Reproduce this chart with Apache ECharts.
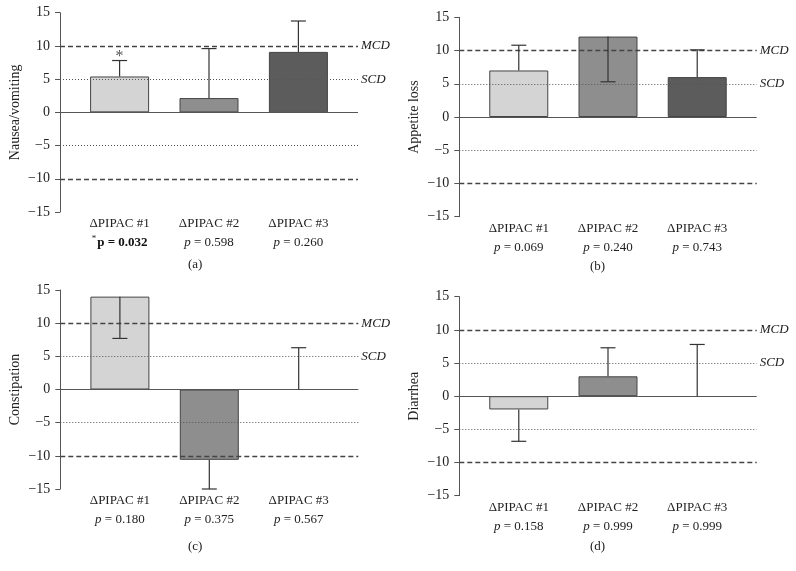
<!DOCTYPE html>
<html>
<head>
<meta charset="utf-8">
<script src="https://cdn.jsdelivr.net/npm/echarts@6/dist/echarts.min.js"></script>
<style>
html,body{margin:0;padding:0;background:#fff;}
#chart{width:796px;height:571px;}
</style>
</head>
<body>
<div id="chart"></div>
<script>
// ---------- DATA ----------
const categories = ['ΔPIPAC #1', 'ΔPIPAC #2', 'ΔPIPAC #3'];
const panelNames = ['Nausea/vomiting', 'Appetite loss', 'Constipation', 'Diarrhea'];
const panelTags = ['(a)', '(b)', '(c)', '(d)'];

const nauseaMeans = [5.4, 2.15, 9.1];
const nauseaErrEnds = [7.8, 9.6, 13.75];
const nauseaP = ['0.032', '0.598', '0.260'];
const nauseaSig = [true, false, false];

const appetiteMeans = [7.0, 12.1, 6.0];
const appetiteErrEnds = [10.8, 5.3, 10.1];
const appetiteP = ['0.069', '0.240', '0.743'];
const appetiteSig = [false, false, false];

const constipationMeans = [14.0, -10.6, 0];
const constipationErrEnds = [7.7, -15.0, 6.3];
const constipationP = ['0.180', '0.375', '0.567'];
const constipationSig = [false, false, false];

const diarrheaMeans = [-2.0, 3.0, 0];
const diarrheaErrEnds = [-6.8, 7.3, 7.8];
const diarrheaP = ['0.158', '0.999', '0.999'];
const diarrheaSig = [false, false, false];

const yTicksMin = -15, yTicksMax = 15, yTickStep = 5;
const mcdValue = 10, scdValue = 5;
const refLabels = ['MCD', 'SCD'];

// ---------- STYLE / LAYOUT ----------
const FONT = '"Liberation Serif", "DejaVu Serif", serif';
const barColors = ['#d4d4d4', '#8e8e8e', '#5c5c5c'];
const grids = [
  {left: 60, top: 12.7, width: 298, height: 199.3},
  {left: 459.3, top: 17.3, width: 297.4, height: 199.4},
  {left: 60.3, top: 290, width: 298, height: 199},
  {left: 459.3, top: 296.7, width: 297.4, height: 199}
];
const captionPos = [[188, 258], [590, 260], [188, 540], [590, 540]];

const panels = [
  {means: nauseaMeans, errs: nauseaErrEnds, p: nauseaP, sig: nauseaSig},
  {means: appetiteMeans, errs: appetiteErrEnds, p: appetiteP, sig: appetiteSig},
  {means: constipationMeans, errs: constipationErrEnds, p: constipationP, sig: constipationSig},
  {means: diarrheaMeans, errs: diarrheaErrEnds, p: diarrheaP, sig: diarrheaSig}
];

const xAxes = [], yAxes = [], series = [], titles = [];

panels.forEach((pn, i) => {
  xAxes.push({
    type: 'value', gridIndex: i, min: 1/3, max: 11/3,
    axisLine: {show: false, onZero: false}, axisTick: {show: false}, splitLine: {show: false},
    axisLabel: {
      customValues: [1, 2, 3],
      margin: 2,
      color: '#222',
      fontFamily: FONT,
      fontSize: 13,
      lineHeight: 19,
      formatter: function (v) {
        const k = Math.round(v) - 1;
        if (k < 0 || k > 2) return '';
        const line2 = pn.sig[k]
          ? '{sup|*}{b|p = ' + pn.p[k] + '}'
          : '{it|p} = ' + pn.p[k];
        return '{n|' + categories[k] + '}\n' + line2;
      },
      rich: {
        n: {fontFamily: FONT, fontSize: 13, color: '#222', lineHeight: 19},
        it: {fontFamily: FONT, fontSize: 13, fontStyle: 'italic', color: '#222', lineHeight: 19},
        b: {fontFamily: FONT, fontSize: 13, fontWeight: 'bold', color: '#111', lineHeight: 19},
        sup: {fontFamily: FONT, fontSize: 9, color: '#222', lineHeight: 19, padding: [0, 1, 7, 0]}
      }
    }
  });
  yAxes.push({
    type: 'value', gridIndex: i, min: yTicksMin, max: yTicksMax, interval: yTickStep,
    name: panelNames[i], nameLocation: 'middle', nameGap: 38,
    nameTextStyle: {fontFamily: FONT, fontSize: 14, color: '#222'},
    axisLine: {show: true, lineStyle: {color: '#555', width: 1}},
    axisTick: {show: true, length: 5, lineStyle: {color: '#555'}},
    splitLine: {show: false},
    axisLabel: {
      color: '#222', fontFamily: FONT, fontSize: 14, margin: 10,
      formatter: v => (v < 0 ? '\u2212' + Math.abs(v) : String(v))
    }
  });
  series.push({
    type: 'bar', xAxisIndex: i, yAxisIndex: i, barWidth: 59,
    data: pn.means.map((m, k) => ({
      value: [k + 1, m],
      itemStyle: {color: barColors[k], borderWidth: m === 0 ? 0 : 1}
    })),
    itemStyle: {borderColor: '#444', borderWidth: 1},
    silent: true,
    markLine: {
      silent: true, symbol: 'none', animation: false,
      data: [
        {yAxis: 0, lineStyle: {type: 'solid', color: '#555', width: 1}, label: {show: false}},
        {yAxis: mcdValue, lineStyle: {type: [5, 3], color: '#444', width: 1.3},
          label: {show: true, position: 'end', distance: 3, formatter: refLabels[0]}},
        {yAxis: scdValue, lineStyle: {type: [1, 2], color: '#555', width: 1},
          label: {show: true, position: 'end', distance: 3, formatter: refLabels[1]}},
        {yAxis: -scdValue, lineStyle: {type: [1, 2], color: '#555', width: 1}, label: {show: false}},
        {yAxis: -mcdValue, lineStyle: {type: [5, 3], color: '#444', width: 1.3}, label: {show: false}}
      ],
      label: {fontFamily: FONT, fontSize: 13, fontStyle: 'italic', color: '#222'}
    }
  });
  series.push({
    type: 'custom', xAxisIndex: i, yAxisIndex: i, silent: true, z: 5,
    data: pn.means.map((m, k) => [k + 1, m, pn.errs[k]]),
    renderItem: function (params, api) {
      const x = api.value(0), y0 = api.value(1), y1 = api.value(2);
      const p0 = api.coord([x, y0]);
      const p1 = api.coord([x, y1]);
      const st = {stroke: '#333', lineWidth: 1.2};
      const children = [
        {type: 'line', shape: {x1: p0[0], y1: p0[1], x2: p1[0], y2: p1[1]}, style: st},
        {type: 'line', shape: {x1: p1[0] - 7.5, y1: p1[1], x2: p1[0] + 7.5, y2: p1[1]}, style: st}
      ];
      if (pn.sig[params.dataIndex]) {
        children.push({type: 'text', x: p1[0], y: p1[1] - 4,
          style: {text: '*', fill: '#555', fontSize: 16, fontFamily: FONT, align: 'center', verticalAlign: 'middle'}});
      }
      return {type: 'group', children: children};
    }
  });
  titles.push({
    text: panelTags[i], left: captionPos[i][0], top: captionPos[i][1], padding: 0,
    textStyle: {fontFamily: FONT, fontSize: 13, fontWeight: 'normal', color: '#222'}
  });
});

const chart = echarts.init(document.getElementById('chart'), null, {renderer: 'canvas'});
chart.setOption({
  backgroundColor: '#fff',
  animation: false,
  title: titles,
  grid: grids,
  xAxis: xAxes,
  yAxis: yAxes,
  series: series
});
</script>
</body>
</html>
